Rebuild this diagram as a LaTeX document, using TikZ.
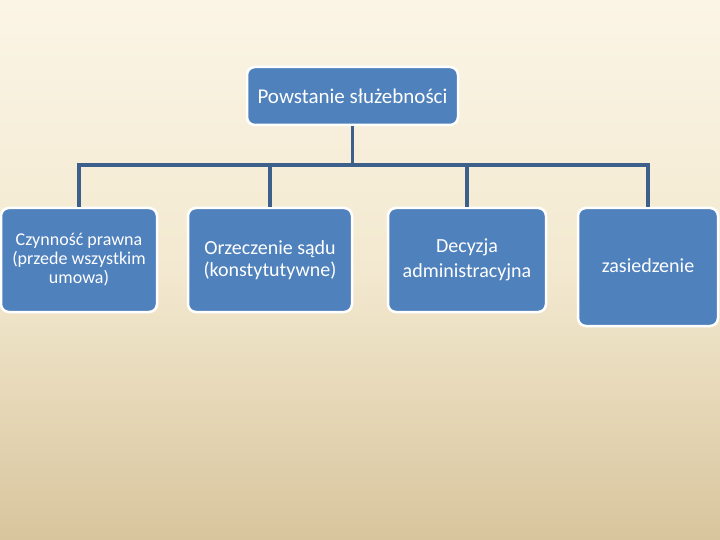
\documentclass[tikz,border=0pt]{standalone}
\usepackage{fontspec}
\setmainfont{Carlito}
\definecolor{boxblue}{HTML}{4F81BD}
\definecolor{linkblue}{HTML}{3D5F8C}
\definecolor{bgtop}{HTML}{FBF5E6}
\definecolor{bgmid}{HTML}{F3E9D0}
\definecolor{bgbot}{HTML}{D8C59D}
\begin{document}
\begin{tikzpicture}[x=1pt, y=-1pt,
    box/.style={draw=white, line width=2.5pt, fill=boxblue, rounded corners=8pt,
                text=white, align=center, inner sep=2pt},
    link/.style={draw=linkblue, line width=3.5pt}]
    \shade[top color=bgtop, bottom color=bgbot, middle color=bgmid] (0,0) rectangle (720,540);
    \useasboundingbox (0,0) rectangle (720,540);

    \node[box, minimum width=211pt, minimum height=58pt, font=\fontsize{21}{24}\selectfont] (root) at (352.5,96) {Powstanie służebności};
    \node[box, minimum width=156pt, minimum height=104pt, font=\fontsize{18}{19}\selectfont] (umowa) at (79,260) {Czynność prawna\\(przede wszystkim\\umowa)};
    \node[box, minimum width=164pt, minimum height=104pt, font=\fontsize{20}{22}\selectfont] (sad) at (270,260) {Orzeczenie sądu\\(konstytutywne)};
    \node[box, minimum width=158pt, minimum height=104pt, font=\fontsize{20}{25}\selectfont] (decyzja) at (467,260) {Decyzja\\administracyjna};
    \node[box, minimum width=140pt, minimum height=118pt, font=\fontsize{20}{22}\selectfont] (zasiedzenie) at (648,267) {\raisebox{3pt}{zasiedzenie}};

    \coordinate (bus) at (352.5,165);
    \draw[link] (root.south) -- (bus);
    \draw[link] (umowa.north) |- (bus) -| (zasiedzenie.north);
    \draw[link] (sad.north) -- (sad.north |- bus);
    \draw[link] (decyzja.north) -- (decyzja.north |- bus);
\end{tikzpicture}
\end{document}
